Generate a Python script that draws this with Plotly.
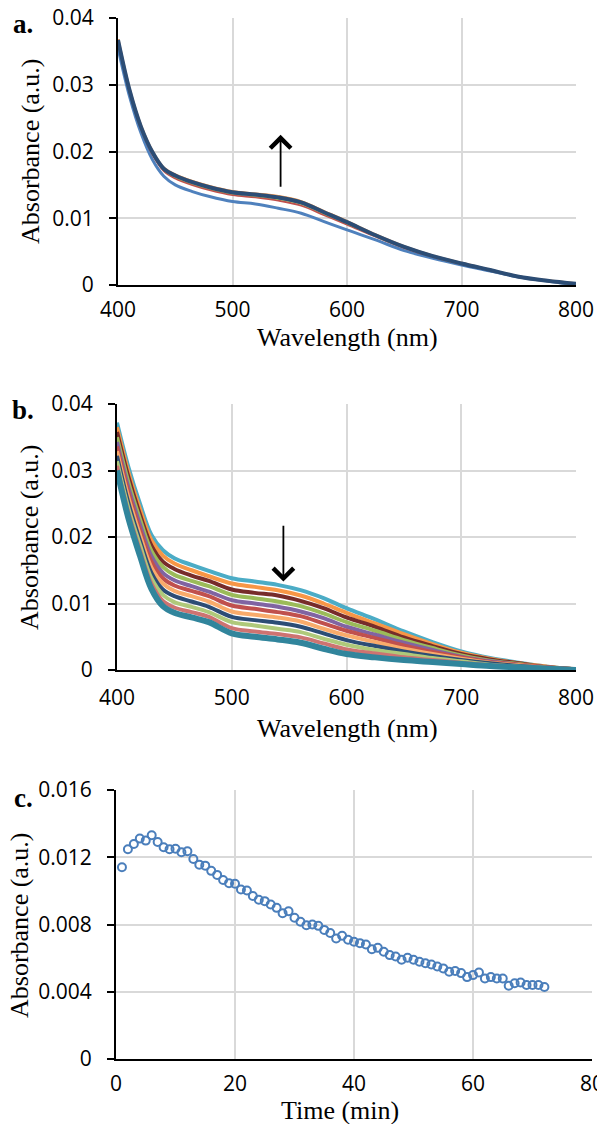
import plotly.graph_objects as go

# ---------------- data ----------------
wavelength = [400, 410, 420, 430, 440, 450, 465, 480, 500, 520, 540, 560,
              580, 600, 625, 650, 675, 700, 725, 750, 775, 800]

# Panel a: spectra recorded during the rise (series 1..7)
a1 = [0.0355, 0.0283, 0.0228, 0.0188, 0.0163, 0.0150, 0.0140, 0.01325, 0.0125, 0.01215, 0.0115,
      0.01075, 0.0095, 0.00825, 0.00675, 0.00515, 0.0040, 0.0030, 0.0021, 0.0012, 0.0006, 0.0000]
a2 = [0.03635, 0.02895, 0.02345, 0.01958, 0.01708, 0.01598, 0.01498, 0.01423, 0.01348, 0.01313, 0.01264,
      0.01189, 0.01048, 0.00906, 0.00724, 0.00554, 0.00423, 0.00316, 0.0022, 0.00123, 0.00063, 0.00013]
a3 = [0.03654, 0.0291, 0.0236, 0.01976, 0.01726, 0.0162, 0.0152, 0.01445, 0.0137, 0.01335, 0.0129,
      0.01215, 0.0107, 0.00925, 0.00735, 0.00563, 0.00428, 0.0032, 0.00222, 0.00124, 0.00064, 0.00016]
a4 = [0.03663, 0.02917, 0.02367, 0.01984, 0.01734, 0.0163, 0.0153, 0.01455, 0.0138, 0.01345, 0.01302,
      0.01227, 0.0108, 0.00934, 0.0074, 0.00567, 0.0043, 0.00322, 0.00223, 0.00124, 0.00064, 0.00017]
a5 = [0.03666, 0.0292, 0.0237, 0.01988, 0.01738, 0.01635, 0.01535, 0.0146, 0.01385, 0.0135, 0.01307,
      0.01232, 0.01085, 0.00938, 0.00742, 0.00569, 0.00431, 0.00322, 0.00223, 0.00124, 0.00064, 0.00018]
a6 = [0.0368, 0.0293, 0.0238, 0.0200, 0.0175, 0.0165, 0.0155, 0.01475, 0.0140, 0.01365, 0.01325,
      0.0125, 0.0110, 0.0095, 0.0075, 0.00575, 0.00435, 0.00325, 0.00225, 0.00125, 0.00065, 0.0002]
a7 = [0.03671, 0.02923, 0.02373, 0.01992, 0.01742, 0.0164, 0.0154, 0.01465, 0.0139, 0.01355, 0.01313,
      0.01238, 0.0109, 0.00941, 0.00745, 0.00571, 0.00433, 0.00323, 0.00224, 0.00125, 0.00065, 0.00019]
a_values = [a1, a2, a3, a4, a5, a6, a7]
a_colors = ["#4F81BD", "#C0504D", "#9BBB59", "#8064A2", "#4BACC6", "#F79646", "#2C4D75"]
a_widths = [3, 2, 2, 2, 2, 3, 4]

# Panel b: spectra recorded during the decay (top -> bottom)
b01 = [0.0372, 0.0305, 0.0250, 0.0203, 0.0180, 0.0168, 0.0158, 0.0149, 0.0138, 0.0133, 0.0128,
       0.0120, 0.0108, 0.0093, 0.0076, 0.0058, 0.0042, 0.0028, 0.0018, 0.0011, 0.0005, 0.0001]
b02 = [0.0365, 0.0297, 0.0242, 0.0195, 0.0172, 0.0160, 0.0150, 0.0141, 0.0130, 0.0125, 0.0120,
       0.0112, 0.0100, 0.0086, 0.0070, 0.0054, 0.0039, 0.0026, 0.0017, 0.0010, 0.0005, 0.0001]
b03 = [0.0358, 0.0290, 0.0234, 0.0187, 0.0163, 0.0152, 0.0142, 0.0134, 0.0121, 0.0116, 0.0112,
       0.0104, 0.0093, 0.0079, 0.0065, 0.0049, 0.0036, 0.0024, 0.0016, 0.0010, 0.0004, 0.0001]
b04 = [0.0350, 0.0282, 0.0227, 0.0179, 0.0155, 0.0143, 0.0134, 0.0126, 0.0113, 0.0108, 0.0103,
       0.0096, 0.0085, 0.0072, 0.0059, 0.0045, 0.0033, 0.0022, 0.0014, 0.0009, 0.0004, 0.0001]
b05 = [0.0343, 0.0274, 0.0219, 0.0171, 0.0146, 0.0135, 0.0126, 0.0118, 0.0105, 0.0100, 0.0095,
       0.0088, 0.0078, 0.0065, 0.0053, 0.0041, 0.0030, 0.0020, 0.0013, 0.0008, 0.0004, 0.0001]
b06 = [0.0336, 0.0267, 0.0211, 0.0163, 0.0138, 0.0127, 0.0119, 0.0111, 0.0097, 0.0092, 0.0087,
       0.0081, 0.0070, 0.0059, 0.0048, 0.0037, 0.0027, 0.0019, 0.0012, 0.0008, 0.0004, 0.0001]
b07 = [0.0329, 0.0259, 0.0203, 0.0154, 0.0130, 0.0119, 0.0111, 0.0103, 0.0088, 0.0083, 0.0079,
       0.0073, 0.0062, 0.0052, 0.0042, 0.0032, 0.0024, 0.0017, 0.0011, 0.0007, 0.0003, 0.0000]
b08 = [0.0322, 0.0251, 0.0195, 0.0146, 0.0121, 0.0111, 0.0103, 0.0095, 0.0080, 0.0075, 0.0071,
       0.0065, 0.0055, 0.0045, 0.0036, 0.0028, 0.0021, 0.0015, 0.0010, 0.0006, 0.0003, 0.0000]
b09 = [0.0314, 0.0243, 0.0188, 0.0138, 0.0113, 0.0102, 0.0095, 0.0087, 0.0072, 0.0067, 0.0062,
       0.0057, 0.0047, 0.0038, 0.0030, 0.0024, 0.0018, 0.0013, 0.0008, 0.0005, 0.0003, 0.0000]
b10 = [0.0307, 0.0236, 0.0180, 0.0130, 0.0104, 0.0094, 0.0087, 0.0080, 0.0063, 0.0058, 0.0054,
       0.0049, 0.0040, 0.0031, 0.0025, 0.0019, 0.0015, 0.0011, 0.0007, 0.0005, 0.0002, 0.0000]
b11 = [0.0300, 0.0228, 0.0172, 0.0122, 0.0096, 0.0086, 0.0079, 0.0072, 0.0055, 0.0050, 0.0046,
       0.0041, 0.0032, 0.0024, 0.0019, 0.0015, 0.0012, 0.0009, 0.0006, 0.0004, 0.0002, 0.0000]
b_values = [b01, b02, b03, b04, b05, b06, b07, b08, b09, b10, b11]
b_colors = ["#4BACC6", "#F79646", "#772C2A", "#9BBB59", "#8064A2", "#C0504D",
            "#F9AB6B", "#2C4D75", "#AFC97A", "#CD7371", "#31859C"]
b_widths = [4, 4, 4, 4, 4, 4, 4, 4, 4, 4, 6]

# Panel c: absorbance vs time
time_min = list(range(1, 73))
absorb_t = [0.01141, 0.01248, 0.01279, 0.01311, 0.01299, 0.01331, 0.01291, 0.01259, 0.01248, 0.01251,
            0.0123, 0.01236, 0.0119, 0.01156, 0.0115, 0.01119, 0.01095, 0.01065, 0.01046, 0.01042,
            0.01008, 0.01002, 0.0097, 0.00947, 0.00939, 0.00919, 0.00899, 0.00867, 0.00879, 0.0084,
            0.00816, 0.00796, 0.008, 0.00792, 0.00768, 0.00749, 0.00717, 0.00733, 0.00709, 0.00697,
            0.00689, 0.00681, 0.00653, 0.00661, 0.00638, 0.00618, 0.0061, 0.0059, 0.00602, 0.0059,
            0.00578, 0.0057, 0.00562, 0.0055, 0.00539, 0.00519, 0.00523, 0.00511, 0.00487, 0.00499,
            0.00515, 0.00479, 0.00487, 0.00479, 0.00479, 0.00436, 0.00451, 0.00455, 0.0044, 0.0044,
            0.0044, 0.00428]

# ---------------- figure ----------------
W, H = 597, 1124
TICK_FONT = dict(family="Open Sans", size=21, color="black")
TITLE_FONT = dict(family="Liberation Serif", size=26, color="black")
LABEL_FONT = dict(family="Liberation Serif", size=27, color="black")

fig = go.Figure()

for vals, col, w in zip(a_values, a_colors, a_widths):
    fig.add_trace(go.Scatter(x=wavelength, y=vals, mode="lines", line=dict(color=col, width=w, shape="spline"),
                             xaxis="x", yaxis="y", showlegend=False))
for vals, col, w in zip(b_values, b_colors, b_widths):
    fig.add_trace(go.Scatter(x=wavelength, y=vals, mode="lines", line=dict(color=col, width=w, shape="spline"),
                             xaxis="x2", yaxis="y2", showlegend=False))
fig.add_trace(go.Scatter(x=time_min, y=absorb_t, mode="markers",
                         marker=dict(symbol="circle-open", size=8, color="#4A7EBB", line=dict(width=2, color="#4A7EBB")),
                         xaxis="x3", yaxis="y3", showlegend=False))

def px_x(p):
    return p / W

def px_y(p):
    return 1 - p / H

grid = "#D9D9D9"

def xax(domain, anchor, rng, dtick, standoff):
    return dict(domain=domain, anchor=anchor, range=rng, dtick=dtick, showgrid=True, gridcolor=grid, gridwidth=1.5,
                showline=True, linecolor="black", linewidth=2, ticks="", tickfont=TICK_FONT,
                ticklabelstandoff=standoff, ticklabeloverflow="allow", zeroline=False, fixedrange=True,
                automargin=False,
                minor=dict(tick0=rng[0], dtick=rng[1] - rng[0], ticks="outside", ticklen=7, tickwidth=2,
                           tickcolor="black", showgrid=False))

def yax(domain, anchor, rng, dtick):
    return dict(domain=domain, anchor=anchor, range=rng, dtick=dtick, showgrid=True, gridcolor=grid, gridwidth=1.5,
                showline=True, linecolor="black", linewidth=2, ticks="outside", ticklen=7, tickwidth=2,
                tickcolor="black", tickfont=TICK_FONT, ticklabelstandoff=11, zeroline=False, fixedrange=True,
                automargin=False)

fig.update_layout(
    width=W, height=H, margin=dict(l=0, r=0, t=0, b=0, autoexpand=False),
    paper_bgcolor="white", plot_bgcolor="white",
    xaxis=xax([px_x(118), px_x(576)], "y", [400, 800], 100, 5),
    yaxis=yax([px_y(285), px_y(18)], "x", [0, 0.04], 0.01),
    xaxis2=xax([px_x(117), px_x(576)], "y2", [400, 800], 100, 8),
    yaxis2=yax([px_y(670), px_y(404)], "x2", [0, 0.04], 0.01),
    xaxis3=xax([px_x(116), px_x(592)], "y3", [0, 80], 20, 5),
    yaxis3=yax([px_y(1059), px_y(790)], "x3", [0, 0.016], 0.004),
)

annotations = []
# panel letters
for txt, yc in [("a.", 24), ("b.", 410), ("c.", 798)]:
    annotations.append(dict(text="<b>%s</b>" % txt, x=px_x(23), y=px_y(yc), xref="paper", yref="paper",
                            showarrow=False, font=LABEL_FONT, xanchor="center", yanchor="middle"))
# axis titles
for txt, xc, yc, rot in [
    ("Absorbance (a.u.)", 31, 151, -90),
    ("Wavelength (nm)", 347, 337, 0),
    ("Absorbance (a.u.)", 30, 537, -90),
    ("Wavelength (nm)", 347, 728, 0),
    ("Absorbance (a.u.)", 19, 925, -90),
    ("Time (min)", 340, 1110, 0),
]:
    annotations.append(dict(text=txt, x=px_x(xc), y=px_y(yc), xref="paper", yref="paper", showarrow=False,
                            font=TITLE_FONT, textangle=rot, xanchor="center", yanchor="middle"))
# arrows
annotations.append(dict(x=542, y=0.0225, ax=542, ay=0.0145, xref="x", yref="y", axref="x", ayref="y",
                        text="", showarrow=True, arrowhead=4, arrowsize=2.2, arrowwidth=1.8, arrowcolor="black"))
annotations.append(dict(x=545, y=0.0133, ax=545, ay=0.0219, xref="x2", yref="y2", axref="x2", ayref="y2",
                        text="", showarrow=True, arrowhead=4, arrowsize=2.2, arrowwidth=1.8, arrowcolor="black"))
fig.update_layout(annotations=annotations)

fig.write_html("out.html", config={"displayModeBar": False})
